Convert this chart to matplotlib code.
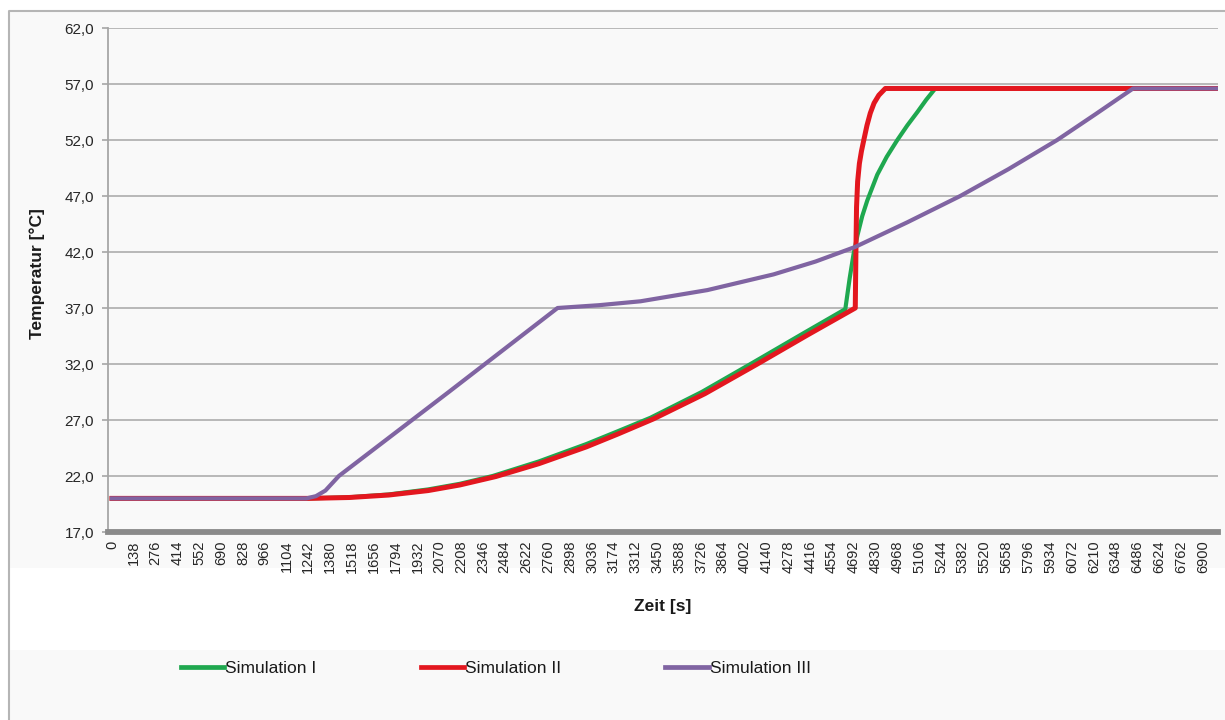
import matplotlib.pyplot as plt
from matplotlib.patches import Rectangle
from matplotlib.lines import Line2D

# Zeit [s] / Temperatur [°C] der drei Simulationen
t_sim1 = [0, 1240, 1500, 1750, 2000, 2200, 2408, 2700, 3000, 3200, 3406, 3730, 4051, 4380, 4638,
          4665, 4690, 4715, 4745, 4777, 4840, 4900, 4967, 5030, 5094, 5150, 5207, 6995]
T_sim1 = [20.0, 20.0, 20.1, 20.35, 20.8, 21.3, 22.0, 23.3, 24.85, 26.0, 27.2, 29.5, 32.1, 34.8, 36.9,
          39.6, 41.8, 43.5, 45.2, 46.6, 48.9, 50.5, 52.0, 53.3, 54.5, 55.6, 56.6, 56.6]

t_sim2 = [0, 1240, 1500, 1750, 2000, 2200, 2427, 2700, 3000, 3200, 3425, 3750, 4082, 4400, 4701,
          4705, 4709, 4716, 4727, 4740, 4755, 4775, 4796, 4820, 4850, 4891, 6995]
T_sim2 = [20.0, 20.0, 20.08, 20.3, 20.7, 21.2, 21.95, 23.1, 24.6, 25.75, 27.1, 29.35, 32.0, 34.6, 37.0,
          42.0, 46.0, 48.3, 49.9, 51.0, 52.0, 53.3, 54.4, 55.3, 56.0, 56.6, 56.6]

t_sim3 = [0, 1230, 1290, 1350, 1435, 2130, 2818, 3080, 3343, 3766, 4184, 4450, 4700, 5030,
          5365, 5670, 5978, 6220, 6458, 6995]
T_sim3 = [20.0, 20.0, 20.2, 20.7, 22.0, 29.5, 37.0, 37.25, 37.6, 38.6, 40.0, 41.15, 42.45, 44.65,
          47.0, 49.4, 52.0, 54.3, 56.6, 56.6]

names = ["Simulation I", "Simulation II", "Simulation III"]
colors = ["#1fa84f", "#e3171f", "#8064a2"]

x_ticks = list(range(0, 6901, 138))
y_ticks = [17, 22, 27, 32, 37, 42, 47, 52, 57, 62]

W, H = 1225, 720
fig = plt.figure(figsize=(W / 100, H / 100), dpi=100)

# hellgraue Flächen und Rahmen
fig.patches.append(Rectangle((9 / W, 1 - 568 / H), 1, (568 - 11) / H, transform=fig.transFigure,
                             facecolor="#f9f9f9", edgecolor="none", zorder=-10))
fig.patches.append(Rectangle((9 / W, 0), 1, (720 - 650) / H, transform=fig.transFigure,
                             facecolor="#f9f9f9", edgecolor="none", zorder=-10))
fig.lines.append(Line2D([9 / W, 9 / W, 1], [0, 1 - 11 / H, 1 - 11 / H], transform=fig.transFigure,
                        color="#b5b5b5", lw=1.5))

ax = fig.add_axes([108 / W, 1 - 532 / H, (1218 - 108) / W, (532 - 28) / H])
ax.set_facecolor("none")

ax.plot(t_sim1, T_sim1, color=colors[0], lw=3.0, label=names[0], zorder=3, solid_joinstyle="round")
ax.plot(t_sim2, T_sim2, color=colors[1], lw=3.6, label=names[1], zorder=4, solid_joinstyle="round")
ax.plot(t_sim3, T_sim3, color=colors[2], lw=3.0, label=names[2], zorder=5, solid_joinstyle="round")

ax.set_xlim(-25, 6995)
ax.set_ylim(17, 62)
ax.set_yticks(y_ticks)
ax.set_yticklabels([f"{v:.1f}".replace(".", ",") for v in y_ticks])
ax.set_xticks(x_ticks)
ax.set_xticklabels([str(v) for v in x_ticks], rotation=90)

ax.grid(axis="y", color="#b3b3b3", lw=1.3, zorder=1)
ax.set_axisbelow(True)
for s in ["top", "right"]:
    ax.spines[s].set_visible(False)
ax.spines["left"].set_color("#a6a6a6")
ax.spines["left"].set_linewidth(1.3)
ax.spines["bottom"].set_color("#8a8a8a")
ax.spines["bottom"].set_linewidth(4.2)
ax.spines["bottom"].set_zorder(6)

ax.tick_params(axis="y", length=4, width=1.2, color="#a6a6a6", pad=6,
               labelsize=11, labelcolor="#262626")
ax.tick_params(axis="x", length=0, pad=6, labelsize=10.5, labelcolor="#262626")
for lab in ax.get_xticklabels() + ax.get_yticklabels():
    lab.set_family(["Liberation Sans", "DejaVu Sans"])

ax.set_xlabel("Zeit [s]", fontsize=12.5, fontweight="bold", color="#1a1a1a",
              family=["Liberation Sans", "DejaVu Sans"])
ax.xaxis.set_label_coords(0.5, -(606 - 532) / 504)
ax.xaxis.label.set_va("center")
ax.set_ylabel("Temperatur [°C]", fontsize=12.5, fontweight="bold", color="#1a1a1a",
              family=["Liberation Sans", "DejaVu Sans"])
ax.yaxis.set_label_coords(-(108 - 37) / 1110, 0.512)
ax.yaxis.label.set_va("center")

leg = fig.legend(loc="center left", bbox_to_anchor=(181 / W, 1 - 668 / H), ncol=3,
                 frameon=False, handlelength=2.5, handletextpad=0.05, columnspacing=6.0,
                 borderaxespad=0, borderpad=0,
                 prop={"family": ["Liberation Sans", "DejaVu Sans"], "size": 12.5})
for h in leg.get_lines():
    h.set_linewidth(3.4)
for txt in leg.get_texts():
    txt.set_color("#1a1a1a")

fig.savefig("out.png", dpi=100)
